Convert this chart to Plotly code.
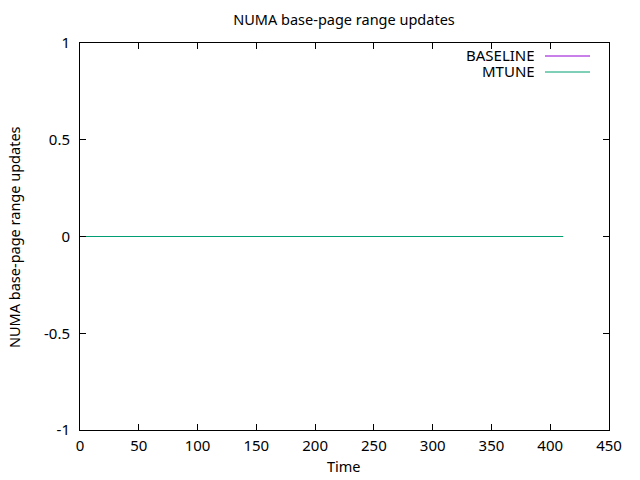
import plotly.graph_objects as go

series_names = ["BASELINE", "MTUNE"]
series_colors = ["#9400D3", "#009E73"]
time_values = [0, 50, 100, 150, 200, 250, 300, 350, 400, 411]
baseline_values = [0, 0, 0, 0, 0, 0, 0, 0, 0, 0]
mtune_values = [0, 0, 0, 0, 0, 0, 0, 0, 0, 0]
x_ticks = [0, 50, 100, 150, 200, 250, 300, 350, 400, 450]
y_ticks = [-1, -0.5, 0, 0.5, 1]
y_tick_labels = ["-1", "-0.5", "0", "0.5", "1"]

FONT = "Noto Sans"
TICK = 15
TITLE = 14.5
LEG = 15
fig = go.Figure()
for name, color, vals in zip(series_names, series_colors, [baseline_values, mtune_values]):
    fig.add_trace(go.Scatter(x=time_values, y=vals, mode="lines", name=name,
                             line=dict(color=color, width=1), showlegend=False))

W, H = 640, 480
L, R, T, B = 80, 31, 43, 50
pw, ph = W - L - R, H - T - B
def px2paper(x, y):
    return (x - L) / pw, 1 - (y - T) / ph
for i, (name, color) in enumerate(zip(series_names, series_colors)):
    yy = 55 + i * 16
    tx, ty = px2paper(536, yy)
    fig.add_annotation(x=tx, y=ty, xref="paper", yref="paper", text=name,
                       showarrow=False, xanchor="right", yanchor="middle", height=14,
                       borderpad=0,
                       font=dict(family=FONT, size=LEG, color="black"))
    x0, y0 = px2paper(545, yy + 1)
    x1, _ = px2paper(590, yy + 1)
    fig.add_shape(type="line", xref="paper", yref="paper", x0=x0, x1=x1, y0=y0, y1=y0,
                  line=dict(color=color, width=1))

xt, yt = px2paper(344, 466)
fig.add_annotation(x=xt, y=yt, xref="paper", yref="paper", text="Time", showarrow=False,
                   xanchor="center", yanchor="middle",
                   font=dict(family=FONT, size=TITLE, color="black"))
xt, yt = px2paper(14, 237)
fig.add_annotation(x=xt, y=yt, xref="paper", yref="paper", text="NUMA base-page range updates",
                   showarrow=False, textangle=-90, xanchor="center", yanchor="middle",
                   font=dict(family=FONT, size=TITLE, color="black"))

axis_common = dict(showline=True, linecolor="black", linewidth=1, mirror="ticks",
                   ticks="inside", ticklen=6, tickcolor="black", showgrid=False,
                   zeroline=False, automargin=False,
                   tickfont=dict(family=FONT, size=TICK, color="black"))
fig.update_layout(
    width=W, height=H,
    margin=dict(l=L, r=R, t=T, b=B),
    plot_bgcolor="white", paper_bgcolor="white",
    title=dict(text="NUMA base-page range updates", x=344 / W, xanchor="center",
               y=1 - 20 / H, yanchor="middle",
               font=dict(family=FONT, size=TITLE, color="black")),
    xaxis=dict(range=[0, 450], tickvals=x_ticks, ticklabelstandoff=2, **axis_common),
    yaxis=dict(range=[-1, 1], tickvals=y_ticks, ticktext=y_tick_labels,
               ticklabelstandoff=6, **axis_common),
)
fig.write_html("out.html", config={"displayModeBar": False},
               post_script="document.body.style.margin='0';")
